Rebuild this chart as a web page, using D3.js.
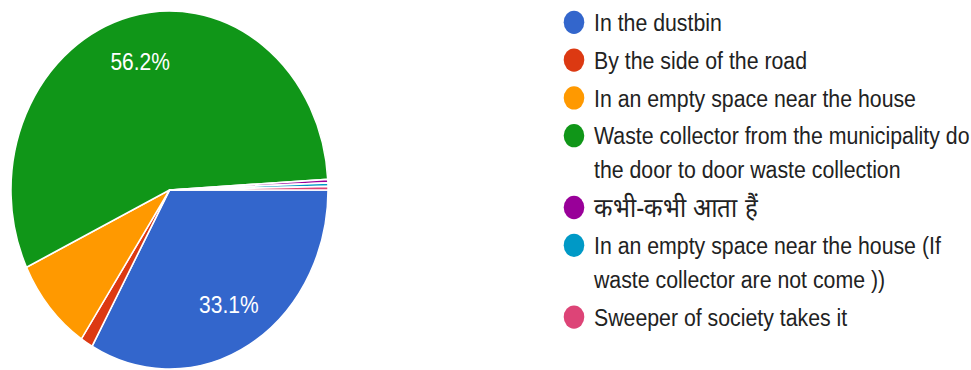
<!DOCTYPE html>
<html>
<head>
<meta charset="utf-8">
<script src="https://cdn.jsdelivr.net/npm/d3@7"></script>
<style>
  html, body { margin: 0; padding: 0; background: #ffffff; }
  svg { display: block; }
  text { font-family: "Liberation Sans", Arial, Roboto, sans-serif; }
</style>
</head>
<body>
<svg id="chart" width="971" height="370"></svg>
<script>
// Where household waste goes (responses)
const categories = [
  "In the dustbin",
  "By the side of the road",
  "In an empty space near the house",
  "Waste collector from the municipality do the door to door waste collection",
  "कभी-कभी आता हैं",
  "In an empty space near the house (If waste collector are not come ))",
  "Sweeper of society takes it"
];
const counts = [105, 4, 27, 178, 1, 1, 1];
const colors = ["#3366cc", "#dc3912", "#ff9900", "#109618", "#990099", "#0099c6", "#dd4477"];

const W = 971, H = 370;
const sy = 1.13;               // vertical stretch of the whole chart
const cx = 169.5, cy = 190 / sy, r = 158.5;

const svg = d3.select("#chart");
const root = svg.append("g").attr("transform", `scale(1,${sy})`);

const data = categories.map((c, i) => ({ label: c, value: counts[i], color: colors[i] }));
const total = d3.sum(counts);

const pie = d3.pie()
  .value(d => d.value)
  .sort(null)
  .startAngle(Math.PI / 2)
  .endAngle(Math.PI / 2 + 2 * Math.PI);

const arcs = pie(data);
const arc = d3.arc().innerRadius(0).outerRadius(r);
const labelArc = d3.arc().innerRadius(r * 0.74).outerRadius(r * 0.74);

const gPie = root.append("g").attr("transform", `translate(${cx},${cy})`);

gPie.selectAll("path")
  .data(arcs)
  .join("path")
  .attr("d", arc)
  .attr("fill", d => d.data.color)
  .attr("stroke", "#ffffff")
  .attr("stroke-width", 1.5)
  .attr("stroke-linejoin", "round");

const fmt = v => (v / total * 100).toFixed(1) + "%";

gPie.selectAll("text.pct")
  .data(arcs.filter(d => d.data.value / total >= 0.2))
  .join("text")
  .attr("class", "pct")
  .attr("transform", d => `translate(${labelArc.centroid(d)})`)
  .attr("text-anchor", "middle")
  .attr("dy", "0.36em")
  .attr("fill", "#ffffff")
  .attr("font-size", 21)
  .text(d => fmt(d.data.value));

// Legend
const legX = 574, textX = 594, maxW = 381;
const lineH = 34 / sy, rowGap = 37.8 / sy;
const gLeg = root.append("g");
const isDevanagari = s => /[\u0900-\u097F]/.test(s);

let y = 22.3 / sy;
data.forEach(d => {
  const row = gLeg.append("g");
  row.append("circle")
    .attr("cx", legX).attr("cy", y)
    .attr("r", 10.3)
    .attr("fill", d.color);

  const t = row.append("text")
    .attr("x", textX)
    .attr("y", y)
    .attr("fill", "#222222")
    .attr("font-size", isDevanagari(d.label) ? 24 : 21.3);

  // wrap words to the legend width
  const words = d.label.split(" ");
  let line = [];
  let tspan = t.append("tspan").attr("x", textX).attr("y", y).attr("dy", "0.36em");
  let lines = 1;
  words.forEach(w => {
    line.push(w);
    tspan.text(line.join(" "));
    if (tspan.node().getComputedTextLength() > maxW && line.length > 1) {
      line.pop();
      tspan.text(line.join(" "));
      line = [w];
      tspan = t.append("tspan").attr("x", textX)
        .attr("y", y + lines * lineH).attr("dy", "0.36em").text(w);
      lines++;
    }
  });
  y += (lines - 1) * lineH + rowGap;
});
</script>
</body>
</html>
